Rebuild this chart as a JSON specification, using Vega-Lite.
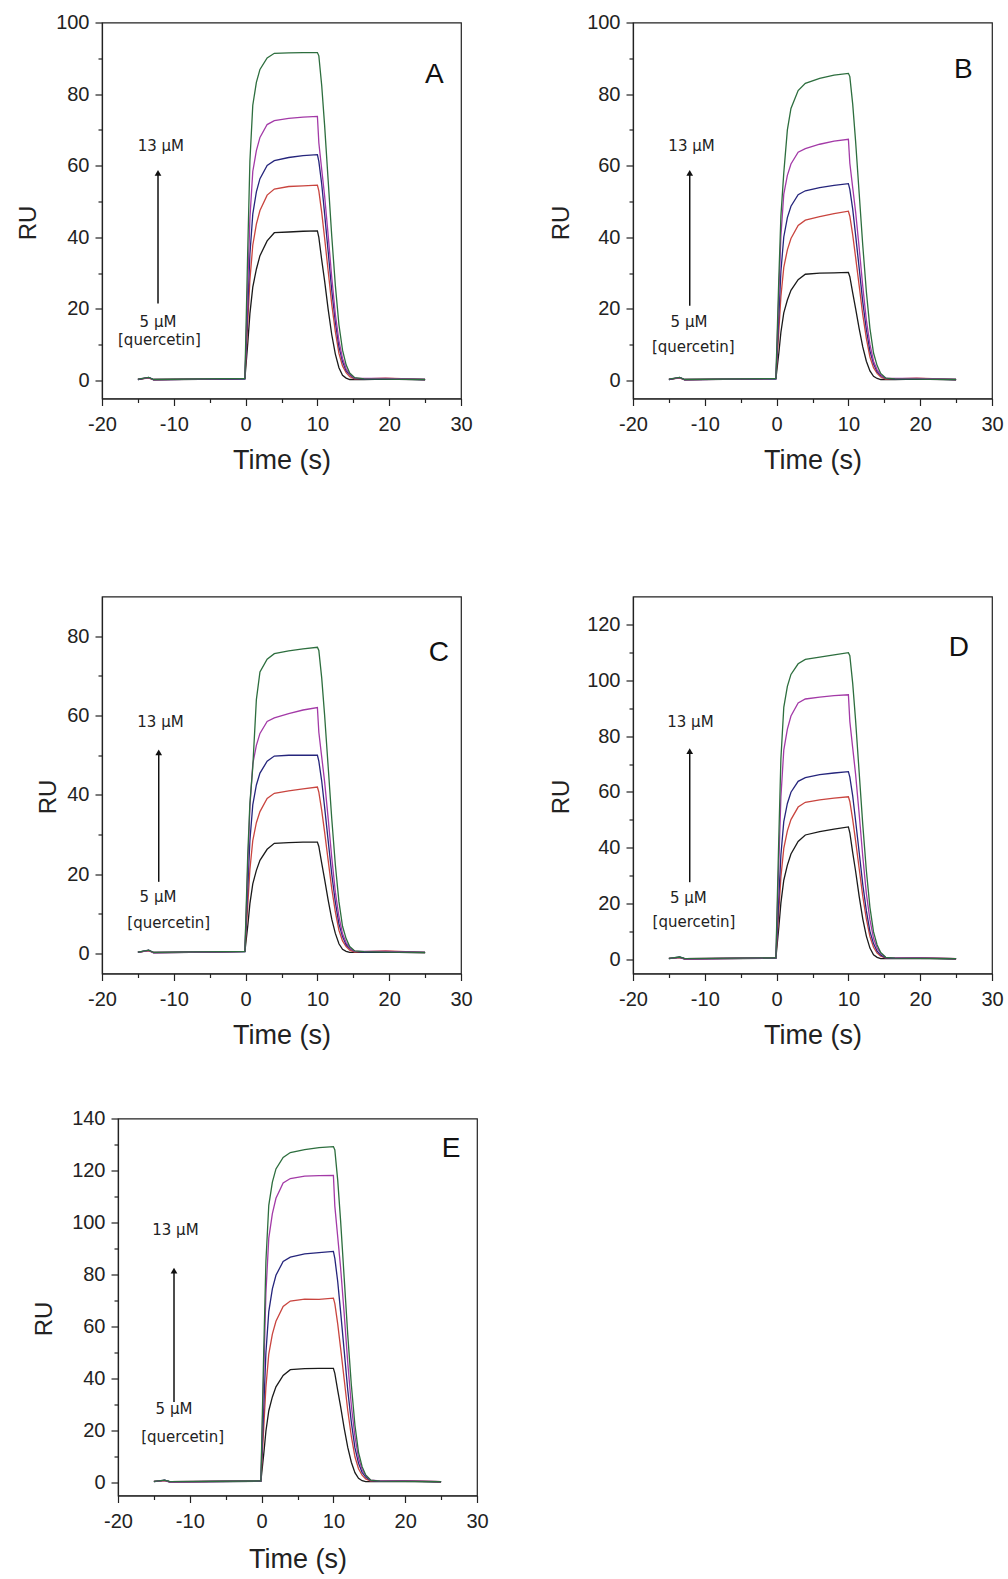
{
  "$schema": "https://vega.github.io/schema/vega-lite/v6.json",
  "background": "white",
  "padding": {"left": 15, "top": 11.5, "right": 0, "bottom": 0},
  "config": {
    "view": {"stroke": "#222", "strokeWidth": 1.2},
    "font": "Liberation Sans",
    "axis": {
      "grid": false,
      "domainColor": "#222", "domainWidth": 1.2,
      "tickColor": "#222", "tickWidth": 1.2, "tickSize": 7,
      "labelFont": "Liberation Sans", "labelFontSize": 20, "labelColor": "#222",
      "labelFlush": false, "labelOverlap": false, "labelBound": false,
      "labelExpr": "'' + datum.value",
      "titleFont": "Liberation Sans", "titleFontWeight": "normal", "titleColor": "#222", "titleBaseline": "alphabetic"
    },
    "axisX": {"labelPadding": 9, "titleFontSize": 27, "titleY": 70},
    "axisY": {"labelPadding": 6, "titleFontSize": 24, "titleY": 200}
  },
  "datasets": {
    "A": [
      {"curve":1,"time":-15,"ru":0.3},{"curve":1,"time":-13.5,"ru":0.8},{"curve":1,"time":-12.8,"ru":0.2},{"curve":1,"time":-0.1,"ru":0.5},{"curve":1,"time":0.3,"ru":10.4},{"curve":1,"time":0.6,"ru":18.7},{"curve":1,"time":1,"ru":26.1},{"curve":1,"time":1.5,"ru":31.1},{"curve":1,"time":2,"ru":34.9},{"curve":1,"time":3,"ru":39.0},{"curve":1,"time":4,"ru":41.3},{"curve":1,"time":6,"ru":41.5},{"curve":1,"time":8,"ru":41.7},{"curve":1,"time":10,"ru":41.8},{"curve":1,"time":10.2,"ru":40.0},{"curve":1,"time":10.6,"ru":33.7},{"curve":1,"time":11,"ru":27.9},{"curve":1,"time":11.5,"ru":19.9},{"curve":1,"time":12,"ru":12.8},{"curve":1,"time":12.5,"ru":7.4},{"curve":1,"time":13,"ru":3.6},{"curve":1,"time":13.5,"ru":1.5},{"curve":1,"time":14,"ru":0.7},{"curve":1,"time":14.5,"ru":0.3},{"curve":1,"time":15.2,"ru":0.3},{"curve":1,"time":16.5,"ru":0.3},{"curve":1,"time":19.5,"ru":0.4},{"curve":1,"time":25,"ru":0.2},
      {"curve":2,"time":-15,"ru":0.4},{"curve":2,"time":-13.5,"ru":0.7},{"curve":2,"time":-12.8,"ru":0.3},{"curve":2,"time":-0.1,"ru":0.6},{"curve":2,"time":0.3,"ru":16.2},{"curve":2,"time":0.6,"ru":28.1},{"curve":2,"time":1,"ru":37.8},{"curve":2,"time":1.5,"ru":43.7},{"curve":2,"time":2,"ru":47.5},{"curve":2,"time":3,"ru":51.8},{"curve":2,"time":4,"ru":53.5},{"curve":2,"time":6,"ru":54.2},{"curve":2,"time":8,"ru":54.4},{"curve":2,"time":10,"ru":54.6},{"curve":2,"time":10.2,"ru":53.0},{"curve":2,"time":10.6,"ru":47.0},{"curve":2,"time":11,"ru":39.9},{"curve":2,"time":11.5,"ru":30.6},{"curve":2,"time":12,"ru":21.3},{"curve":2,"time":12.5,"ru":13.7},{"curve":2,"time":13,"ru":7.6},{"curve":2,"time":13.5,"ru":4.1},{"curve":2,"time":14,"ru":2.2},{"curve":2,"time":14.5,"ru":1.1},{"curve":2,"time":15.2,"ru":0.5},{"curve":2,"time":16.5,"ru":0.5},{"curve":2,"time":19.5,"ru":0.7},{"curve":2,"time":25,"ru":0.3},
      {"curve":3,"time":-15,"ru":0.3},{"curve":3,"time":-13.5,"ru":0.9},{"curve":3,"time":-12.8,"ru":0.3},{"curve":3,"time":-0.1,"ru":0.5},{"curve":3,"time":0.3,"ru":20.5},{"curve":3,"time":0.6,"ru":35.3},{"curve":3,"time":1,"ru":46.5},{"curve":3,"time":1.5,"ru":52.7},{"curve":3,"time":2,"ru":56.4},{"curve":3,"time":3,"ru":60.1},{"curve":3,"time":4,"ru":61.4},{"curve":3,"time":6,"ru":62.3},{"curve":3,"time":8,"ru":62.8},{"curve":3,"time":10,"ru":63.1},{"curve":3,"time":10.2,"ru":61.2},{"curve":3,"time":10.6,"ru":54.9},{"curve":3,"time":11,"ru":46.7},{"curve":3,"time":11.5,"ru":36.0},{"curve":3,"time":12,"ru":25.2},{"curve":3,"time":12.5,"ru":16.4},{"curve":3,"time":13,"ru":9.5},{"curve":3,"time":13.5,"ru":5.3},{"curve":3,"time":14,"ru":2.8},{"curve":3,"time":14.5,"ru":1.6},{"curve":3,"time":15.2,"ru":0.6},{"curve":3,"time":16.5,"ru":0.4},{"curve":3,"time":19.5,"ru":0.5},{"curve":3,"time":25,"ru":0.3},
      {"curve":4,"time":-15,"ru":0.4},{"curve":4,"time":-13.5,"ru":0.8},{"curve":4,"time":-12.8,"ru":0.2},{"curve":4,"time":-0.1,"ru":0.6},{"curve":4,"time":0.3,"ru":26.3},{"curve":4,"time":0.6,"ru":45.3},{"curve":4,"time":1,"ru":58.4},{"curve":4,"time":1.5,"ru":64.2},{"curve":4,"time":2,"ru":67.9},{"curve":4,"time":3,"ru":71.5},{"curve":4,"time":4,"ru":72.6},{"curve":4,"time":6,"ru":73.2},{"curve":4,"time":8,"ru":73.6},{"curve":4,"time":10,"ru":73.8},{"curve":4,"time":10.2,"ru":66.4},{"curve":4,"time":10.6,"ru":59.0},{"curve":4,"time":11,"ru":51.7},{"curve":4,"time":11.5,"ru":40.6},{"curve":4,"time":12,"ru":28.8},{"curve":4,"time":12.5,"ru":18.5},{"curve":4,"time":13,"ru":11.1},{"curve":4,"time":13.5,"ru":6.2},{"curve":4,"time":14,"ru":3.3},{"curve":4,"time":14.5,"ru":1.8},{"curve":4,"time":15.2,"ru":0.7},{"curve":4,"time":16.5,"ru":0.6},{"curve":4,"time":19.5,"ru":0.6},{"curve":4,"time":25,"ru":0.3},
      {"curve":5,"time":-15,"ru":0.4},{"curve":5,"time":-13.5,"ru":0.9},{"curve":5,"time":-12.8,"ru":0.3},{"curve":5,"time":-0.1,"ru":0.6},{"curve":5,"time":0.3,"ru":36.6},{"curve":5,"time":0.6,"ru":61.3},{"curve":5,"time":1,"ru":76.9},{"curve":5,"time":1.5,"ru":83.3},{"curve":5,"time":2,"ru":86.9},{"curve":5,"time":3,"ru":90.1},{"curve":5,"time":4,"ru":91.4},{"curve":5,"time":6,"ru":91.5},{"curve":5,"time":8,"ru":91.6},{"curve":5,"time":10,"ru":91.6},{"curve":5,"time":10.2,"ru":90.7},{"curve":5,"time":10.6,"ru":82.4},{"curve":5,"time":11,"ru":71.4},{"curve":5,"time":11.5,"ru":55.9},{"curve":5,"time":12,"ru":40.3},{"curve":5,"time":12.5,"ru":26.6},{"curve":5,"time":13,"ru":15.6},{"curve":5,"time":13.5,"ru":8.5},{"curve":5,"time":14,"ru":4.4},{"curve":5,"time":14.5,"ru":2.1},{"curve":5,"time":15.2,"ru":0.8},{"curve":5,"time":16.5,"ru":0.5},{"curve":5,"time":19.5,"ru":0.4},{"curve":5,"time":25,"ru":0.3}
    ],
    "B": [
      {"curve":1,"time":-15,"ru":0.3},{"curve":1,"time":-13.5,"ru":0.8},{"curve":1,"time":-12.8,"ru":0.2},{"curve":1,"time":-0.1,"ru":0.5},{"curve":1,"time":0.3,"ru":7.5},{"curve":1,"time":0.6,"ru":13.5},{"curve":1,"time":1,"ru":18.9},{"curve":1,"time":1.5,"ru":22.5},{"curve":1,"time":2,"ru":25.2},{"curve":1,"time":3,"ru":28.2},{"curve":1,"time":4,"ru":29.7},{"curve":1,"time":6,"ru":30.0},{"curve":1,"time":8,"ru":30.1},{"curve":1,"time":10,"ru":30.2},{"curve":1,"time":10.2,"ru":29.0},{"curve":1,"time":10.6,"ru":24.5},{"curve":1,"time":11,"ru":20.2},{"curve":1,"time":11.5,"ru":14.5},{"curve":1,"time":12,"ru":9.4},{"curve":1,"time":12.5,"ru":5.4},{"curve":1,"time":13,"ru":2.7},{"curve":1,"time":13.5,"ru":1.2},{"curve":1,"time":14,"ru":0.6},{"curve":1,"time":14.5,"ru":0.3},{"curve":1,"time":15.2,"ru":0.3},{"curve":1,"time":16.5,"ru":0.3},{"curve":1,"time":19.5,"ru":0.4},{"curve":1,"time":25,"ru":0.2},
      {"curve":2,"time":-15,"ru":0.4},{"curve":2,"time":-13.5,"ru":0.7},{"curve":2,"time":-12.8,"ru":0.3},{"curve":2,"time":-0.1,"ru":0.6},{"curve":2,"time":0.3,"ru":13.5},{"curve":2,"time":0.6,"ru":23.5},{"curve":2,"time":1,"ru":31.6},{"curve":2,"time":1.5,"ru":36.5},{"curve":2,"time":2,"ru":39.7},{"curve":2,"time":3,"ru":43.3},{"curve":2,"time":4,"ru":44.8},{"curve":2,"time":6,"ru":45.8},{"curve":2,"time":8,"ru":46.6},{"curve":2,"time":10,"ru":47.3},{"curve":2,"time":10.2,"ru":45.9},{"curve":2,"time":10.6,"ru":40.7},{"curve":2,"time":11,"ru":34.5},{"curve":2,"time":11.5,"ru":26.5},{"curve":2,"time":12,"ru":18.4},{"curve":2,"time":12.5,"ru":11.8},{"curve":2,"time":13,"ru":6.6},{"curve":2,"time":13.5,"ru":3.6},{"curve":2,"time":14,"ru":2.0},{"curve":2,"time":14.5,"ru":1.0},{"curve":2,"time":15.2,"ru":0.4},{"curve":2,"time":16.5,"ru":0.5},{"curve":2,"time":19.5,"ru":0.7},{"curve":2,"time":25,"ru":0.3},
      {"curve":3,"time":-15,"ru":0.3},{"curve":3,"time":-13.5,"ru":0.9},{"curve":3,"time":-12.8,"ru":0.3},{"curve":3,"time":-0.1,"ru":0.5},{"curve":3,"time":0.3,"ru":17.7},{"curve":3,"time":0.6,"ru":30.5},{"curve":3,"time":1,"ru":40.1},{"curve":3,"time":1.5,"ru":45.5},{"curve":3,"time":2,"ru":48.7},{"curve":3,"time":3,"ru":51.9},{"curve":3,"time":4,"ru":53.0},{"curve":3,"time":6,"ru":53.9},{"curve":3,"time":8,"ru":54.5},{"curve":3,"time":10,"ru":55.0},{"curve":3,"time":10.2,"ru":53.4},{"curve":3,"time":10.6,"ru":47.9},{"curve":3,"time":11,"ru":40.7},{"curve":3,"time":11.5,"ru":31.4},{"curve":3,"time":12,"ru":22.0},{"curve":3,"time":12.5,"ru":14.3},{"curve":3,"time":13,"ru":8.3},{"curve":3,"time":13.5,"ru":4.7},{"curve":3,"time":14,"ru":2.5},{"curve":3,"time":14.5,"ru":1.4},{"curve":3,"time":15.2,"ru":0.6},{"curve":3,"time":16.5,"ru":0.4},{"curve":3,"time":19.5,"ru":0.5},{"curve":3,"time":25,"ru":0.3},
      {"curve":4,"time":-15,"ru":0.4},{"curve":4,"time":-13.5,"ru":0.8},{"curve":4,"time":-12.8,"ru":0.2},{"curve":4,"time":-0.1,"ru":0.6},{"curve":4,"time":0.3,"ru":23.4},{"curve":4,"time":0.6,"ru":40.4},{"curve":4,"time":1,"ru":52.1},{"curve":4,"time":1.5,"ru":57.3},{"curve":4,"time":2,"ru":60.5},{"curve":4,"time":3,"ru":63.8},{"curve":4,"time":4,"ru":64.8},{"curve":4,"time":6,"ru":66.0},{"curve":4,"time":8,"ru":66.9},{"curve":4,"time":10,"ru":67.4},{"curve":4,"time":10.2,"ru":60.7},{"curve":4,"time":10.6,"ru":53.9},{"curve":4,"time":11,"ru":47.2},{"curve":4,"time":11.5,"ru":37.1},{"curve":4,"time":12,"ru":26.3},{"curve":4,"time":12.5,"ru":16.9},{"curve":4,"time":13,"ru":10.1},{"curve":4,"time":13.5,"ru":5.4},{"curve":4,"time":14,"ru":3.0},{"curve":4,"time":14.5,"ru":1.6},{"curve":4,"time":15.2,"ru":0.6},{"curve":4,"time":16.5,"ru":0.6},{"curve":4,"time":19.5,"ru":0.6},{"curve":4,"time":25,"ru":0.3},
      {"curve":5,"time":-15,"ru":0.4},{"curve":5,"time":-13.5,"ru":0.9},{"curve":5,"time":-12.8,"ru":0.3},{"curve":5,"time":-0.1,"ru":0.6},{"curve":5,"time":0.3,"ru":28.0},{"curve":5,"time":0.6,"ru":46.0},{"curve":5,"time":1,"ru":58.0},{"curve":5,"time":1.5,"ru":70.0},{"curve":5,"time":2,"ru":76.0},{"curve":5,"time":3,"ru":81.0},{"curve":5,"time":4,"ru":83.0},{"curve":5,"time":6,"ru":84.4},{"curve":5,"time":8,"ru":85.3},{"curve":5,"time":10,"ru":85.8},{"curve":5,"time":10.2,"ru":84.9},{"curve":5,"time":10.6,"ru":77.2},{"curve":5,"time":11,"ru":66.9},{"curve":5,"time":11.5,"ru":52.3},{"curve":5,"time":12,"ru":37.8},{"curve":5,"time":12.5,"ru":24.9},{"curve":5,"time":13,"ru":14.6},{"curve":5,"time":13.5,"ru":7.7},{"curve":5,"time":14,"ru":4.2},{"curve":5,"time":14.5,"ru":2.0},{"curve":5,"time":15.2,"ru":0.7},{"curve":5,"time":16.5,"ru":0.5},{"curve":5,"time":19.5,"ru":0.4},{"curve":5,"time":25,"ru":0.3}
    ],
    "C": [
      {"curve":1,"time":-15,"ru":0.3},{"curve":1,"time":-13.5,"ru":0.8},{"curve":1,"time":-12.8,"ru":0.2},{"curve":1,"time":-0.1,"ru":0.5},{"curve":1,"time":0.3,"ru":7.0},{"curve":1,"time":0.6,"ru":12.6},{"curve":1,"time":1,"ru":17.6},{"curve":1,"time":1.5,"ru":21.0},{"curve":1,"time":2,"ru":23.5},{"curve":1,"time":3,"ru":26.3},{"curve":1,"time":4,"ru":27.8},{"curve":1,"time":6,"ru":28.0},{"curve":1,"time":8,"ru":28.1},{"curve":1,"time":10,"ru":28.1},{"curve":1,"time":10.2,"ru":27.0},{"curve":1,"time":10.6,"ru":22.8},{"curve":1,"time":11,"ru":18.8},{"curve":1,"time":11.5,"ru":13.5},{"curve":1,"time":12,"ru":8.7},{"curve":1,"time":12.5,"ru":5.1},{"curve":1,"time":13,"ru":2.5},{"curve":1,"time":13.5,"ru":1.1},{"curve":1,"time":14,"ru":0.6},{"curve":1,"time":14.5,"ru":0.3},{"curve":1,"time":15.2,"ru":0.3},{"curve":1,"time":16.5,"ru":0.3},{"curve":1,"time":19.5,"ru":0.4},{"curve":1,"time":25,"ru":0.2},
      {"curve":2,"time":-15,"ru":0.4},{"curve":2,"time":-13.5,"ru":0.7},{"curve":2,"time":-12.8,"ru":0.3},{"curve":2,"time":-0.1,"ru":0.6},{"curve":2,"time":0.3,"ru":12.2},{"curve":2,"time":0.6,"ru":21.2},{"curve":2,"time":1,"ru":28.5},{"curve":2,"time":1.5,"ru":33.0},{"curve":2,"time":2,"ru":35.8},{"curve":2,"time":3,"ru":39.1},{"curve":2,"time":4,"ru":40.4},{"curve":2,"time":6,"ru":41.0},{"curve":2,"time":8,"ru":41.5},{"curve":2,"time":10,"ru":42.0},{"curve":2,"time":10.2,"ru":40.7},{"curve":2,"time":10.6,"ru":36.1},{"curve":2,"time":11,"ru":30.7},{"curve":2,"time":11.5,"ru":23.5},{"curve":2,"time":12,"ru":16.4},{"curve":2,"time":12.5,"ru":10.5},{"curve":2,"time":13,"ru":5.9},{"curve":2,"time":13.5,"ru":3.2},{"curve":2,"time":14,"ru":1.8},{"curve":2,"time":14.5,"ru":0.9},{"curve":2,"time":15.2,"ru":0.4},{"curve":2,"time":16.5,"ru":0.5},{"curve":2,"time":19.5,"ru":0.7},{"curve":2,"time":25,"ru":0.3},
      {"curve":3,"time":-15,"ru":0.3},{"curve":3,"time":-13.5,"ru":0.9},{"curve":3,"time":-12.8,"ru":0.3},{"curve":3,"time":-0.1,"ru":0.5},{"curve":3,"time":0.3,"ru":16.5},{"curve":3,"time":0.6,"ru":28.5},{"curve":3,"time":1,"ru":37.5},{"curve":3,"time":1.5,"ru":42.5},{"curve":3,"time":2,"ru":45.5},{"curve":3,"time":3,"ru":48.5},{"curve":3,"time":4,"ru":49.8},{"curve":3,"time":6,"ru":50.0},{"curve":3,"time":8,"ru":50.0},{"curve":3,"time":10,"ru":50.0},{"curve":3,"time":10.2,"ru":48.5},{"curve":3,"time":10.6,"ru":43.5},{"curve":3,"time":11,"ru":37.0},{"curve":3,"time":11.5,"ru":28.5},{"curve":3,"time":12,"ru":20.0},{"curve":3,"time":12.5,"ru":13.0},{"curve":3,"time":13,"ru":7.5},{"curve":3,"time":13.5,"ru":4.3},{"curve":3,"time":14,"ru":2.3},{"curve":3,"time":14.5,"ru":1.3},{"curve":3,"time":15.2,"ru":0.6},{"curve":3,"time":16.5,"ru":0.4},{"curve":3,"time":19.5,"ru":0.5},{"curve":3,"time":25,"ru":0.3},
      {"curve":4,"time":-15,"ru":0.4},{"curve":4,"time":-13.5,"ru":0.8},{"curve":4,"time":-12.8,"ru":0.2},{"curve":4,"time":-0.1,"ru":0.6},{"curve":4,"time":0.3,"ru":21.5},{"curve":4,"time":0.6,"ru":37.0},{"curve":4,"time":1,"ru":47.8},{"curve":4,"time":1.5,"ru":52.5},{"curve":4,"time":2,"ru":55.5},{"curve":4,"time":3,"ru":58.5},{"curve":4,"time":4,"ru":59.4},{"curve":4,"time":6,"ru":60.5},{"curve":4,"time":8,"ru":61.4},{"curve":4,"time":10,"ru":62.0},{"curve":4,"time":10.2,"ru":55.8},{"curve":4,"time":10.6,"ru":49.6},{"curve":4,"time":11,"ru":43.4},{"curve":4,"time":11.5,"ru":34.1},{"curve":4,"time":12,"ru":24.2},{"curve":4,"time":12.5,"ru":15.5},{"curve":4,"time":13,"ru":9.3},{"curve":4,"time":13.5,"ru":5.0},{"curve":4,"time":14,"ru":2.8},{"curve":4,"time":14.5,"ru":1.5},{"curve":4,"time":15.2,"ru":0.6},{"curve":4,"time":16.5,"ru":0.6},{"curve":4,"time":19.5,"ru":0.6},{"curve":4,"time":25,"ru":0.3},
      {"curve":5,"time":-15,"ru":0.4},{"curve":5,"time":-13.5,"ru":0.9},{"curve":5,"time":-12.8,"ru":0.3},{"curve":5,"time":-0.1,"ru":0.6},{"curve":5,"time":0.3,"ru":25.0},{"curve":5,"time":0.6,"ru":38.0},{"curve":5,"time":1,"ru":47.0},{"curve":5,"time":1.5,"ru":64.0},{"curve":5,"time":2,"ru":71.0},{"curve":5,"time":3,"ru":74.2},{"curve":5,"time":4,"ru":75.6},{"curve":5,"time":6,"ru":76.3},{"curve":5,"time":8,"ru":76.8},{"curve":5,"time":10,"ru":77.2},{"curve":5,"time":10.2,"ru":76.4},{"curve":5,"time":10.6,"ru":69.5},{"curve":5,"time":11,"ru":60.2},{"curve":5,"time":11.5,"ru":47.1},{"curve":5,"time":12,"ru":34.0},{"curve":5,"time":12.5,"ru":22.4},{"curve":5,"time":13,"ru":13.1},{"curve":5,"time":13.5,"ru":6.9},{"curve":5,"time":14,"ru":3.8},{"curve":5,"time":14.5,"ru":1.8},{"curve":5,"time":15.2,"ru":0.7},{"curve":5,"time":16.5,"ru":0.5},{"curve":5,"time":19.5,"ru":0.4},{"curve":5,"time":25,"ru":0.3}
    ],
    "D": [
      {"curve":1,"time":-15,"ru":0.3},{"curve":1,"time":-13.5,"ru":0.8},{"curve":1,"time":-12.8,"ru":0.2},{"curve":1,"time":-0.1,"ru":0.5},{"curve":1,"time":0.3,"ru":11.3},{"curve":1,"time":0.6,"ru":20.3},{"curve":1,"time":1,"ru":28.4},{"curve":1,"time":1.5,"ru":33.8},{"curve":1,"time":2,"ru":37.8},{"curve":1,"time":3,"ru":42.3},{"curve":1,"time":4,"ru":44.6},{"curve":1,"time":6,"ru":45.8},{"curve":1,"time":8,"ru":46.7},{"curve":1,"time":10,"ru":47.5},{"curve":1,"time":10.2,"ru":45.4},{"curve":1,"time":10.6,"ru":38.3},{"curve":1,"time":11,"ru":31.7},{"curve":1,"time":11.5,"ru":22.6},{"curve":1,"time":12,"ru":14.6},{"curve":1,"time":12.5,"ru":8.4},{"curve":1,"time":13,"ru":4.1},{"curve":1,"time":13.5,"ru":1.7},{"curve":1,"time":14,"ru":0.8},{"curve":1,"time":14.5,"ru":0.3},{"curve":1,"time":15.2,"ru":0.3},{"curve":1,"time":16.5,"ru":0.3},{"curve":1,"time":19.5,"ru":0.4},{"curve":1,"time":25,"ru":0.2},
      {"curve":2,"time":-15,"ru":0.4},{"curve":2,"time":-13.5,"ru":0.7},{"curve":2,"time":-12.8,"ru":0.3},{"curve":2,"time":-0.1,"ru":0.6},{"curve":2,"time":0.3,"ru":17.1},{"curve":2,"time":0.6,"ru":29.6},{"curve":2,"time":1,"ru":39.8},{"curve":2,"time":1.5,"ru":46.1},{"curve":2,"time":2,"ru":50.1},{"curve":2,"time":3,"ru":54.6},{"curve":2,"time":4,"ru":56.3},{"curve":2,"time":6,"ru":57.2},{"curve":2,"time":8,"ru":57.8},{"curve":2,"time":10,"ru":58.3},{"curve":2,"time":10.2,"ru":56.6},{"curve":2,"time":10.6,"ru":50.1},{"curve":2,"time":11,"ru":42.6},{"curve":2,"time":11.5,"ru":32.6},{"curve":2,"time":12,"ru":22.7},{"curve":2,"time":12.5,"ru":14.6},{"curve":2,"time":13,"ru":8.2},{"curve":2,"time":13.5,"ru":4.4},{"curve":2,"time":14,"ru":2.3},{"curve":2,"time":14.5,"ru":1.2},{"curve":2,"time":15.2,"ru":0.5},{"curve":2,"time":16.5,"ru":0.5},{"curve":2,"time":19.5,"ru":0.7},{"curve":2,"time":25,"ru":0.3},
      {"curve":3,"time":-15,"ru":0.3},{"curve":3,"time":-13.5,"ru":0.9},{"curve":3,"time":-12.8,"ru":0.3},{"curve":3,"time":-0.1,"ru":0.5},{"curve":3,"time":0.3,"ru":21.7},{"curve":3,"time":0.6,"ru":37.5},{"curve":3,"time":1,"ru":49.4},{"curve":3,"time":1.5,"ru":55.9},{"curve":3,"time":2,"ru":59.9},{"curve":3,"time":3,"ru":63.8},{"curve":3,"time":4,"ru":65.1},{"curve":3,"time":6,"ru":66.2},{"curve":3,"time":8,"ru":66.8},{"curve":3,"time":10,"ru":67.3},{"curve":3,"time":10.2,"ru":65.3},{"curve":3,"time":10.6,"ru":58.6},{"curve":3,"time":11,"ru":49.8},{"curve":3,"time":11.5,"ru":38.4},{"curve":3,"time":12,"ru":26.9},{"curve":3,"time":12.5,"ru":17.5},{"curve":3,"time":13,"ru":10.1},{"curve":3,"time":13.5,"ru":5.7},{"curve":3,"time":14,"ru":3.0},{"curve":3,"time":14.5,"ru":1.6},{"curve":3,"time":15.2,"ru":0.6},{"curve":3,"time":16.5,"ru":0.4},{"curve":3,"time":19.5,"ru":0.5},{"curve":3,"time":25,"ru":0.3},
      {"curve":4,"time":-15,"ru":0.4},{"curve":4,"time":-13.5,"ru":0.8},{"curve":4,"time":-12.8,"ru":0.2},{"curve":4,"time":-0.1,"ru":0.6},{"curve":4,"time":0.3,"ru":33.8},{"curve":4,"time":0.6,"ru":58.2},{"curve":4,"time":1,"ru":75.0},{"curve":4,"time":1.5,"ru":82.5},{"curve":4,"time":2,"ru":87.2},{"curve":4,"time":3,"ru":91.9},{"curve":4,"time":4,"ru":93.3},{"curve":4,"time":6,"ru":94.0},{"curve":4,"time":8,"ru":94.5},{"curve":4,"time":10,"ru":94.8},{"curve":4,"time":10.2,"ru":85.3},{"curve":4,"time":10.6,"ru":75.8},{"curve":4,"time":11,"ru":66.4},{"curve":4,"time":11.5,"ru":52.1},{"curve":4,"time":12,"ru":37.0},{"curve":4,"time":12.5,"ru":23.7},{"curve":4,"time":13,"ru":14.2},{"curve":4,"time":13.5,"ru":7.6},{"curve":4,"time":14,"ru":4.1},{"curve":4,"time":14.5,"ru":2.2},{"curve":4,"time":15.2,"ru":0.8},{"curve":4,"time":16.5,"ru":0.6},{"curve":4,"time":19.5,"ru":0.6},{"curve":4,"time":25,"ru":0.3},
      {"curve":5,"time":-15,"ru":0.4},{"curve":5,"time":-13.5,"ru":0.9},{"curve":5,"time":-12.8,"ru":0.3},{"curve":5,"time":-0.1,"ru":0.6},{"curve":5,"time":0.3,"ru":43.0},{"curve":5,"time":0.6,"ru":72.0},{"curve":5,"time":1,"ru":90.3},{"curve":5,"time":1.5,"ru":97.8},{"curve":5,"time":2,"ru":102.1},{"curve":5,"time":3,"ru":105.9},{"curve":5,"time":4,"ru":107.5},{"curve":5,"time":6,"ru":108.3},{"curve":5,"time":8,"ru":109.1},{"curve":5,"time":10,"ru":109.9},{"curve":5,"time":10.2,"ru":108.8},{"curve":5,"time":10.6,"ru":98.9},{"curve":5,"time":11,"ru":85.7},{"curve":5,"time":11.5,"ru":67.0},{"curve":5,"time":12,"ru":48.4},{"curve":5,"time":12.5,"ru":31.9},{"curve":5,"time":13,"ru":18.7},{"curve":5,"time":13.5,"ru":9.9},{"curve":5,"time":14,"ru":5.2},{"curve":5,"time":14.5,"ru":2.5},{"curve":5,"time":15.2,"ru":0.8},{"curve":5,"time":16.5,"ru":0.5},{"curve":5,"time":19.5,"ru":0.4},{"curve":5,"time":25,"ru":0.3}
    ],
    "E": [
      {"curve":1,"time":-15,"ru":0.3},{"curve":1,"time":-13.5,"ru":0.8},{"curve":1,"time":-12.8,"ru":0.2},{"curve":1,"time":-0.1,"ru":0.5},{"curve":1,"time":0.3,"ru":11.0},{"curve":1,"time":0.6,"ru":19.7},{"curve":1,"time":1,"ru":27.6},{"curve":1,"time":1.5,"ru":32.9},{"curve":1,"time":2,"ru":36.8},{"curve":1,"time":3,"ru":41.2},{"curve":1,"time":4,"ru":43.4},{"curve":1,"time":6,"ru":43.8},{"curve":1,"time":8,"ru":43.9},{"curve":1,"time":10,"ru":43.9},{"curve":1,"time":10.2,"ru":42.0},{"curve":1,"time":10.6,"ru":35.4},{"curve":1,"time":11,"ru":29.3},{"curve":1,"time":11.5,"ru":20.9},{"curve":1,"time":12,"ru":13.5},{"curve":1,"time":12.5,"ru":7.8},{"curve":1,"time":13,"ru":3.8},{"curve":1,"time":13.5,"ru":1.6},{"curve":1,"time":14,"ru":0.7},{"curve":1,"time":14.5,"ru":0.3},{"curve":1,"time":15.2,"ru":0.3},{"curve":1,"time":16.5,"ru":0.3},{"curve":1,"time":19.5,"ru":0.4},{"curve":1,"time":25,"ru":0.2},
      {"curve":2,"time":-15,"ru":0.4},{"curve":2,"time":-13.5,"ru":0.7},{"curve":2,"time":-12.8,"ru":0.3},{"curve":2,"time":-0.1,"ru":0.6},{"curve":2,"time":0.3,"ru":21.2},{"curve":2,"time":0.6,"ru":36.7},{"curve":2,"time":1,"ru":49.4},{"curve":2,"time":1.5,"ru":57.1},{"curve":2,"time":2,"ru":62.0},{"curve":2,"time":3,"ru":67.7},{"curve":2,"time":4,"ru":69.8},{"curve":2,"time":6,"ru":70.5},{"curve":2,"time":8,"ru":70.4},{"curve":2,"time":10,"ru":70.9},{"curve":2,"time":10.2,"ru":68.8},{"curve":2,"time":10.6,"ru":61.0},{"curve":2,"time":11,"ru":51.8},{"curve":2,"time":11.5,"ru":39.7},{"curve":2,"time":12,"ru":27.7},{"curve":2,"time":12.5,"ru":17.7},{"curve":2,"time":13,"ru":9.9},{"curve":2,"time":13.5,"ru":5.3},{"curve":2,"time":14,"ru":2.8},{"curve":2,"time":14.5,"ru":1.4},{"curve":2,"time":15.2,"ru":0.5},{"curve":2,"time":16.5,"ru":0.5},{"curve":2,"time":19.5,"ru":0.7},{"curve":2,"time":25,"ru":0.3},
      {"curve":3,"time":-15,"ru":0.3},{"curve":3,"time":-13.5,"ru":0.9},{"curve":3,"time":-12.8,"ru":0.3},{"curve":3,"time":-0.1,"ru":0.5},{"curve":3,"time":0.3,"ru":28.9},{"curve":3,"time":0.6,"ru":49.9},{"curve":3,"time":1,"ru":65.7},{"curve":3,"time":1.5,"ru":74.5},{"curve":3,"time":2,"ru":79.7},{"curve":3,"time":3,"ru":85.0},{"curve":3,"time":4,"ru":86.7},{"curve":3,"time":6,"ru":87.9},{"curve":3,"time":8,"ru":88.4},{"curve":3,"time":10,"ru":88.9},{"curve":3,"time":10.2,"ru":86.2},{"curve":3,"time":10.6,"ru":77.3},{"curve":3,"time":11,"ru":65.8},{"curve":3,"time":11.5,"ru":50.7},{"curve":3,"time":12,"ru":35.6},{"curve":3,"time":12.5,"ru":23.1},{"curve":3,"time":13,"ru":13.3},{"curve":3,"time":13.5,"ru":7.4},{"curve":3,"time":14,"ru":3.9},{"curve":3,"time":14.5,"ru":2.1},{"curve":3,"time":15.2,"ru":0.7},{"curve":3,"time":16.5,"ru":0.4},{"curve":3,"time":19.5,"ru":0.5},{"curve":3,"time":25,"ru":0.3},
      {"curve":4,"time":-15,"ru":0.4},{"curve":4,"time":-13.5,"ru":0.8},{"curve":4,"time":-12.8,"ru":0.2},{"curve":4,"time":-0.1,"ru":0.6},{"curve":4,"time":0.3,"ru":42.3},{"curve":4,"time":0.6,"ru":72.9},{"curve":4,"time":1,"ru":94.0},{"curve":4,"time":1.5,"ru":103.4},{"curve":4,"time":2,"ru":109.3},{"curve":4,"time":3,"ru":115.2},{"curve":4,"time":4,"ru":116.9},{"curve":4,"time":6,"ru":117.8},{"curve":4,"time":8,"ru":118.0},{"curve":4,"time":10,"ru":118.1},{"curve":4,"time":10.2,"ru":106.3},{"curve":4,"time":10.6,"ru":94.5},{"curve":4,"time":11,"ru":82.7},{"curve":4,"time":11.5,"ru":65.0},{"curve":4,"time":12,"ru":46.1},{"curve":4,"time":12.5,"ru":29.5},{"curve":4,"time":13,"ru":17.7},{"curve":4,"time":13.5,"ru":9.4},{"curve":4,"time":14,"ru":5.0},{"curve":4,"time":14.5,"ru":2.7},{"curve":4,"time":15.2,"ru":0.9},{"curve":4,"time":16.5,"ru":0.6},{"curve":4,"time":19.5,"ru":0.6},{"curve":4,"time":25,"ru":0.3},
      {"curve":5,"time":-15,"ru":0.4},{"curve":5,"time":-13.5,"ru":0.9},{"curve":5,"time":-12.8,"ru":0.3},{"curve":5,"time":-0.1,"ru":0.6},{"curve":5,"time":0.3,"ru":50.8},{"curve":5,"time":0.6,"ru":85.0},{"curve":5,"time":1,"ru":106.6},{"curve":5,"time":1.5,"ru":115.5},{"curve":5,"time":2,"ru":120.6},{"curve":5,"time":3,"ru":125.0},{"curve":5,"time":4,"ru":126.9},{"curve":5,"time":6,"ru":128.0},{"curve":5,"time":8,"ru":128.8},{"curve":5,"time":10,"ru":129.2},{"curve":5,"time":10.2,"ru":127.9},{"curve":5,"time":10.6,"ru":116.3},{"curve":5,"time":11,"ru":100.8},{"curve":5,"time":11.5,"ru":78.8},{"curve":5,"time":12,"ru":56.8},{"curve":5,"time":12.5,"ru":37.5},{"curve":5,"time":13,"ru":22.0},{"curve":5,"time":13.5,"ru":11.6},{"curve":5,"time":14,"ru":6.1},{"curve":5,"time":14.5,"ru":2.9},{"curve":5,"time":15.2,"ru":0.9},{"curve":5,"time":16.5,"ru":0.5},{"curve":5,"time":19.5,"ru":0.4},{"curve":5,"time":25,"ru":0.3}
    ]
  },
  "spacing": 121,
  "vconcat": [
    {
      "spacing": 75,
      "hconcat": [
        {
          "width": 359, "height": 376,
          "layer": [
            {"data": {"name": "A"}, "mark": {"type": "line", "strokeWidth": 1.3},
             "encoding": {
               "x": {"field": "time", "type": "quantitative", "scale": {"domain": [-20, 30], "nice": false, "zero": false}, "axis": {"values": [-20, -10, 0, 10, 20, 30], "title": "Time (s)"}},
               "y": {"field": "ru", "type": "quantitative", "scale": {"domain": [-5, 100], "nice": false, "zero": false}, "axis": {"values": [0, 20, 40, 60, 80, 100], "title": "RU", "titleX": -67}},
               "color": {"field": "curve", "type": "nominal", "scale": {"domain": [1, 2, 3, 4, 5], "range": ["#1a1a1a", "#c9453f", "#25257c", "#a33aa7", "#2d6e3e"]}, "legend": null}}},
            {"data": {"values": [{}]}, "mark": {"type": "rule", "color": "#111", "strokeWidth": 1.5},
             "encoding": {
               "x": {"datum": -12.2, "type": "quantitative", "axis": {"values": [-15, -5, 5, 15, 25], "labels": false, "tickSize": 4, "domain": false, "title": null, "orient": "bottom"}},
               "y": {"datum": 21.5, "type": "quantitative", "axis": {"values": [10, 30, 50, 70, 90], "labels": false, "tickSize": 4, "domain": false, "title": null, "orient": "left"}},
               "y2": {"datum": 57.5}}},
            {"data": {"values": [{}]}, "mark": {"type": "point", "shape": "triangle-up", "filled": true, "size": 45, "color": "#111", "opacity": 1},
             "encoding": {"x": {"datum": -12.2, "type": "quantitative", "axis": null}, "y": {"datum": 58, "type": "quantitative", "axis": null}}},
            {"data": {"values": [{}]}, "mark": {"type": "text", "font": "DejaVu Sans", "fontSize": 15, "color": "#222"},
             "encoding": {"x": {"datum": -11.8, "type": "quantitative", "axis": null}, "y": {"datum": 65.6, "type": "quantitative", "axis": null}, "text": {"value": "13 µM"}}},
            {"data": {"values": [{}]}, "mark": {"type": "text", "font": "DejaVu Sans", "fontSize": 15, "color": "#222"},
             "encoding": {"x": {"datum": -12.2, "type": "quantitative", "axis": null}, "y": {"datum": 16.3, "type": "quantitative", "axis": null}, "text": {"value": "5 µM"}}},
            {"data": {"values": [{}]}, "mark": {"type": "text", "font": "DejaVu Sans", "fontSize": 15, "color": "#222"},
             "encoding": {"x": {"datum": -12, "type": "quantitative", "axis": null}, "y": {"datum": 11.2, "type": "quantitative", "axis": null}, "text": {"value": "[quercetin]"}}},
            {"data": {"values": [{}]}, "mark": {"type": "text", "font": "Liberation Sans", "fontSize": 28, "color": "#111"},
             "encoding": {"x": {"datum": 26.3, "type": "quantitative", "axis": null}, "y": {"datum": 85.4, "type": "quantitative", "axis": null}, "text": {"value": "A"}}}
          ],
          "resolve": {"axis": {"x": "independent", "y": "independent"}}
        },
        {
          "width": 359, "height": 376,
          "layer": [
            {"data": {"name": "B"}, "mark": {"type": "line", "strokeWidth": 1.3},
             "encoding": {
               "x": {"field": "time", "type": "quantitative", "scale": {"domain": [-20, 30], "nice": false, "zero": false}, "axis": {"values": [-20, -10, 0, 10, 20, 30], "title": "Time (s)"}},
               "y": {"field": "ru", "type": "quantitative", "scale": {"domain": [-5, 100], "nice": false, "zero": false}, "axis": {"values": [0, 20, 40, 60, 80, 100], "title": "RU", "titleX": -65}},
               "color": {"field": "curve", "type": "nominal", "scale": {"domain": [1, 2, 3, 4, 5], "range": ["#1a1a1a", "#c9453f", "#25257c", "#a33aa7", "#2d6e3e"]}, "legend": null}}},
            {"data": {"values": [{}]}, "mark": {"type": "rule", "color": "#111", "strokeWidth": 1.5},
             "encoding": {
               "x": {"datum": -12.1, "type": "quantitative", "axis": {"values": [-15, -5, 5, 15, 25], "labels": false, "tickSize": 4, "domain": false, "title": null, "orient": "bottom"}},
               "y": {"datum": 20.9, "type": "quantitative", "axis": {"values": [10, 30, 50, 70, 90], "labels": false, "tickSize": 4, "domain": false, "title": null, "orient": "left"}},
               "y2": {"datum": 57.5}}},
            {"data": {"values": [{}]}, "mark": {"type": "point", "shape": "triangle-up", "filled": true, "size": 45, "color": "#111", "opacity": 1},
             "encoding": {"x": {"datum": -12.1, "type": "quantitative", "axis": null}, "y": {"datum": 58, "type": "quantitative", "axis": null}}},
            {"data": {"values": [{}]}, "mark": {"type": "text", "font": "DejaVu Sans", "fontSize": 15, "color": "#222"},
             "encoding": {"x": {"datum": -11.85, "type": "quantitative", "axis": null}, "y": {"datum": 65.6, "type": "quantitative", "axis": null}, "text": {"value": "13 µM"}}},
            {"data": {"values": [{}]}, "mark": {"type": "text", "font": "DejaVu Sans", "fontSize": 15, "color": "#222"},
             "encoding": {"x": {"datum": -12.2, "type": "quantitative", "axis": null}, "y": {"datum": 16.3, "type": "quantitative", "axis": null}, "text": {"value": "5 µM"}}},
            {"data": {"values": [{}]}, "mark": {"type": "text", "font": "DejaVu Sans", "fontSize": 15, "color": "#222"},
             "encoding": {"x": {"datum": -11.6, "type": "quantitative", "axis": null}, "y": {"datum": 9.3, "type": "quantitative", "axis": null}, "text": {"value": "[quercetin]"}}},
            {"data": {"values": [{}]}, "mark": {"type": "text", "font": "Liberation Sans", "fontSize": 28, "color": "#111"},
             "encoding": {"x": {"datum": 26, "type": "quantitative", "axis": null}, "y": {"datum": 86.8, "type": "quantitative", "axis": null}, "text": {"value": "B"}}}
          ],
          "resolve": {"axis": {"x": "independent", "y": "independent"}}
        }
      ]
    },
    {
      "spacing": 58,
      "vconcat": [
        {
          "spacing": 75,
          "hconcat": [
            {
              "width": 359, "height": 377,
              "layer": [
                {"data": {"name": "C"}, "mark": {"type": "line", "strokeWidth": 1.3},
                 "encoding": {
                   "x": {"field": "time", "type": "quantitative", "scale": {"domain": [-20, 30], "nice": false, "zero": false}, "axis": {"values": [-20, -10, 0, 10, 20, 30], "title": "Time (s)"}},
                   "y": {"field": "ru", "type": "quantitative", "scale": {"domain": [-5, 90], "nice": false, "zero": false}, "axis": {"values": [0, 20, 40, 60, 80], "title": "RU", "titleX": -47}},
                   "color": {"field": "curve", "type": "nominal", "scale": {"domain": [1, 2, 3, 4, 5], "range": ["#1a1a1a", "#c9453f", "#25257c", "#a33aa7", "#2d6e3e"]}, "legend": null}}},
                {"data": {"values": [{}]}, "mark": {"type": "rule", "color": "#111", "strokeWidth": 1.5},
                 "encoding": {
                   "x": {"datum": -12.1, "type": "quantitative", "axis": {"values": [-15, -5, 5, 15, 25], "labels": false, "tickSize": 4, "domain": false, "title": null, "orient": "bottom"}},
                   "y": {"datum": 18.1, "type": "quantitative", "axis": {"values": [10, 30, 50, 70], "labels": false, "tickSize": 4, "domain": false, "title": null, "orient": "left"}},
                   "y2": {"datum": 50.2}}},
                {"data": {"values": [{}]}, "mark": {"type": "point", "shape": "triangle-up", "filled": true, "size": 45, "color": "#111", "opacity": 1},
                 "encoding": {"x": {"datum": -12.1, "type": "quantitative", "axis": null}, "y": {"datum": 50.7, "type": "quantitative", "axis": null}}},
                {"data": {"values": [{}]}, "mark": {"type": "text", "font": "DejaVu Sans", "fontSize": 15, "color": "#222"},
                 "encoding": {"x": {"datum": -11.86, "type": "quantitative", "axis": null}, "y": {"datum": 58.4, "type": "quantitative", "axis": null}, "text": {"value": "13 µM"}}},
                {"data": {"values": [{}]}, "mark": {"type": "text", "font": "DejaVu Sans", "fontSize": 15, "color": "#222"},
                 "encoding": {"x": {"datum": -12.2, "type": "quantitative", "axis": null}, "y": {"datum": 14.3, "type": "quantitative", "axis": null}, "text": {"value": "5 µM"}}},
                {"data": {"values": [{}]}, "mark": {"type": "text", "font": "DejaVu Sans", "fontSize": 15, "color": "#222"},
                 "encoding": {"x": {"datum": -10.7, "type": "quantitative", "axis": null}, "y": {"datum": 7.6, "type": "quantitative", "axis": null}, "text": {"value": "[quercetin]"}}},
                {"data": {"values": [{}]}, "mark": {"type": "text", "font": "Liberation Sans", "fontSize": 28, "color": "#111"},
                 "encoding": {"x": {"datum": 26.9, "type": "quantitative", "axis": null}, "y": {"datum": 75.7, "type": "quantitative", "axis": null}, "text": {"value": "C"}}}
              ],
              "resolve": {"axis": {"x": "independent", "y": "independent"}}
            },
            {
              "width": 359, "height": 377,
              "layer": [
                {"data": {"name": "D"}, "mark": {"type": "line", "strokeWidth": 1.3},
                 "encoding": {
                   "x": {"field": "time", "type": "quantitative", "scale": {"domain": [-20, 30], "nice": false, "zero": false}, "axis": {"values": [-20, -10, 0, 10, 20, 30], "title": "Time (s)"}},
                   "y": {"field": "ru", "type": "quantitative", "scale": {"domain": [-5, 130], "nice": false, "zero": false}, "axis": {"values": [0, 20, 40, 60, 80, 100, 120], "title": "RU", "titleX": -65}},
                   "color": {"field": "curve", "type": "nominal", "scale": {"domain": [1, 2, 3, 4, 5], "range": ["#1a1a1a", "#c9453f", "#25257c", "#a33aa7", "#2d6e3e"]}, "legend": null}}},
                {"data": {"values": [{}]}, "mark": {"type": "rule", "color": "#111", "strokeWidth": 1.5},
                 "encoding": {
                   "x": {"datum": -12.1, "type": "quantitative", "axis": {"values": [-15, -5, 5, 15, 25], "labels": false, "tickSize": 4, "domain": false, "title": null, "orient": "bottom"}},
                   "y": {"datum": 27.7, "type": "quantitative", "axis": {"values": [10, 30, 50, 70, 90, 110], "labels": false, "tickSize": 4, "domain": false, "title": null, "orient": "left"}},
                   "y2": {"datum": 74}}},
                {"data": {"values": [{}]}, "mark": {"type": "point", "shape": "triangle-up", "filled": true, "size": 45, "color": "#111", "opacity": 1},
                 "encoding": {"x": {"datum": -12.1, "type": "quantitative", "axis": null}, "y": {"datum": 74.6, "type": "quantitative", "axis": null}}},
                {"data": {"values": [{}]}, "mark": {"type": "text", "font": "DejaVu Sans", "fontSize": 15, "color": "#222"},
                 "encoding": {"x": {"datum": -12, "type": "quantitative", "axis": null}, "y": {"datum": 84.9, "type": "quantitative", "axis": null}, "text": {"value": "13 µM"}}},
                {"data": {"values": [{}]}, "mark": {"type": "text", "font": "DejaVu Sans", "fontSize": 15, "color": "#222"},
                 "encoding": {"x": {"datum": -12.3, "type": "quantitative", "axis": null}, "y": {"datum": 22.1, "type": "quantitative", "axis": null}, "text": {"value": "5 µM"}}},
                {"data": {"values": [{}]}, "mark": {"type": "text", "font": "DejaVu Sans", "fontSize": 15, "color": "#222"},
                 "encoding": {"x": {"datum": -11.5, "type": "quantitative", "axis": null}, "y": {"datum": 13.4, "type": "quantitative", "axis": null}, "text": {"value": "[quercetin]"}}},
                {"data": {"values": [{}]}, "mark": {"type": "text", "font": "Liberation Sans", "fontSize": 28, "color": "#111"},
                 "encoding": {"x": {"datum": 25.4, "type": "quantitative", "axis": null}, "y": {"datum": 111.4, "type": "quantitative", "axis": null}, "text": {"value": "D"}}}
              ],
              "resolve": {"axis": {"x": "independent", "y": "independent"}}
            }
          ]
        },
        {
          "spacing": 15,
          "bounds": "flush",
          "hconcat": [
            {"width": 1, "height": 377, "view": {"stroke": null}, "data": {"values": []}, "mark": {"type": "point", "opacity": 0}, "encoding": {}},
            {
              "width": 359, "height": 377,
              "layer": [
                {"data": {"name": "E"}, "mark": {"type": "line", "strokeWidth": 1.3},
                 "encoding": {
                   "x": {"field": "time", "type": "quantitative", "scale": {"domain": [-20, 30], "nice": false, "zero": false}, "axis": {"values": [-20, -10, 0, 10, 20, 30], "title": "Time (s)", "titleY": 72}},
                   "y": {"field": "ru", "type": "quantitative", "scale": {"domain": [-5, 140], "nice": false, "zero": false}, "axis": {"values": [0, 20, 40, 60, 80, 100, 120, 140], "title": "RU", "titleX": -67}},
                   "color": {"field": "curve", "type": "nominal", "scale": {"domain": [1, 2, 3, 4, 5], "range": ["#1a1a1a", "#c9453f", "#25257c", "#a33aa7", "#2d6e3e"]}, "legend": null}}},
                {"data": {"values": [{}]}, "mark": {"type": "rule", "color": "#111", "strokeWidth": 1.5},
                 "encoding": {
                   "x": {"datum": -12.2, "type": "quantitative", "axis": {"values": [-15, -5, 5, 15, 25], "labels": false, "tickSize": 4, "domain": false, "title": null, "orient": "bottom"}},
                   "y": {"datum": 31, "type": "quantitative", "axis": {"values": [10, 30, 50, 70, 90, 110, 130], "labels": false, "tickSize": 4, "domain": false, "title": null, "orient": "left"}},
                   "y2": {"datum": 81}}},
                {"data": {"values": [{}]}, "mark": {"type": "point", "shape": "triangle-up", "filled": true, "size": 45, "color": "#111", "opacity": 1},
                 "encoding": {"x": {"datum": -12.2, "type": "quantitative", "axis": null}, "y": {"datum": 81.5, "type": "quantitative", "axis": null}}},
                {"data": {"values": [{}]}, "mark": {"type": "text", "font": "DejaVu Sans", "fontSize": 15, "color": "#222"},
                 "encoding": {"x": {"datum": -12, "type": "quantitative", "axis": null}, "y": {"datum": 97.3, "type": "quantitative", "axis": null}, "text": {"value": "13 µM"}}},
                {"data": {"values": [{}]}, "mark": {"type": "text", "font": "DejaVu Sans", "fontSize": 15, "color": "#222"},
                 "encoding": {"x": {"datum": -12.2, "type": "quantitative", "axis": null}, "y": {"datum": 28.4, "type": "quantitative", "axis": null}, "text": {"value": "5 µM"}}},
                {"data": {"values": [{}]}, "mark": {"type": "text", "font": "DejaVu Sans", "fontSize": 15, "color": "#222"},
                 "encoding": {"x": {"datum": -11, "type": "quantitative", "axis": null}, "y": {"datum": 17.5, "type": "quantitative", "axis": null}, "text": {"value": "[quercetin]"}}},
                {"data": {"values": [{}]}, "mark": {"type": "text", "font": "Liberation Sans", "fontSize": 28, "color": "#111"},
                 "encoding": {"x": {"datum": 26.4, "type": "quantitative", "axis": null}, "y": {"datum": 128.1, "type": "quantitative", "axis": null}, "text": {"value": "E"}}}
              ],
              "resolve": {"axis": {"x": "independent", "y": "independent"}}
            }
          ]
        }
      ]
    }
  ]
}
